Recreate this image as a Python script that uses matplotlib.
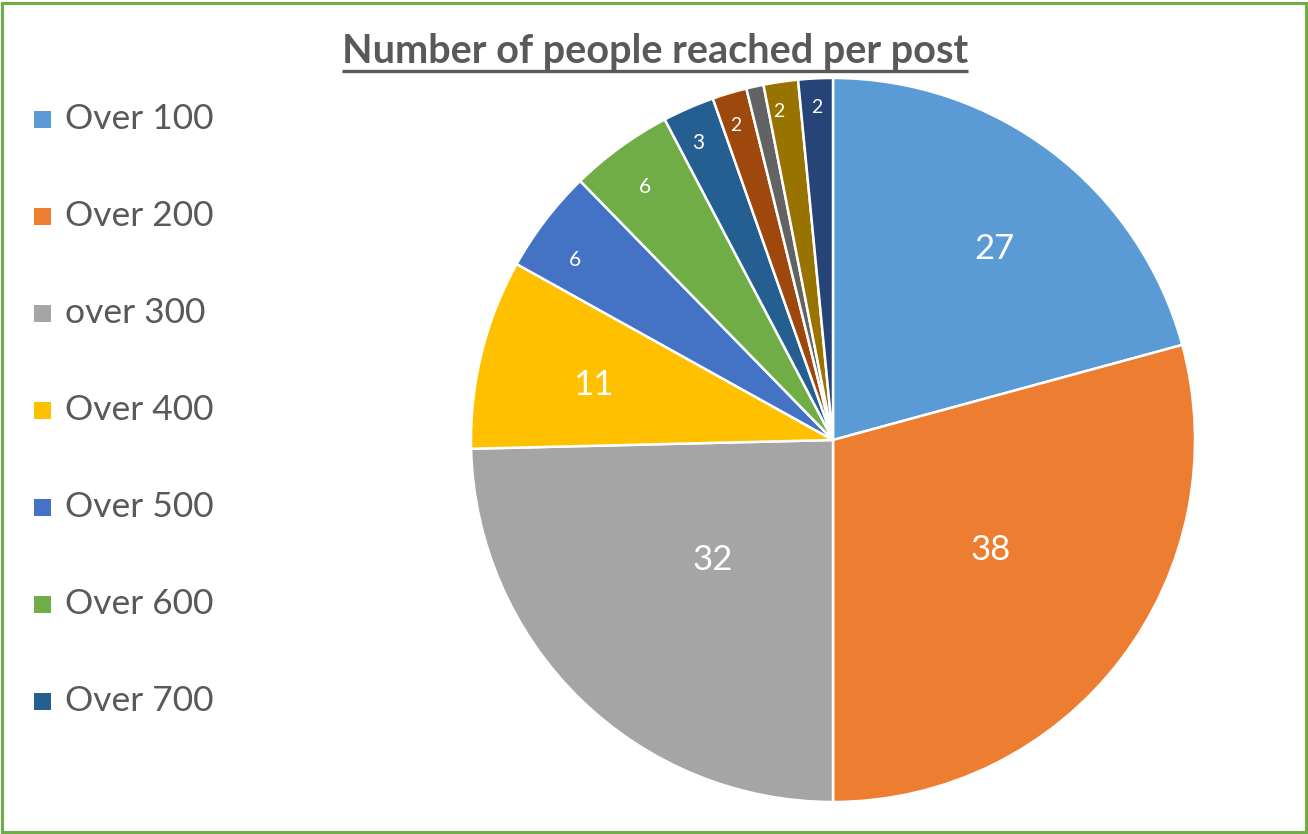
import matplotlib
matplotlib.use("Agg")
import matplotlib.pyplot as plt
from matplotlib.patches import Rectangle
import numpy as np

plt.rcParams['font.family'] = ['Lato', 'DejaVu Sans']

# Data
categories = ["Over 100", "Over 200", "over 300", "Over 400", "Over 500",
              "Over 600", "Over 700", "Over 800", "Over 900", "Over 1000", "Over 1100"]
values = [27, 38, 32, 11, 6, 6, 3, 2, 1, 2, 2]
show_label = [True, True, True, True, True, True, True, True, False, True, True]
legend_count = 7
title = "Number of people reached per post"

colors = ["#5B9BD5", "#ED7D31", "#A5A5A5", "#FFC000", "#4472C4", "#70AD47",
          "#255E91", "#9E480E", "#636363", "#997300", "#264478"]
# label placement: fraction of radius and angular nudge (degrees)
label_radius = [0.69, 0.53, 0.47, 0.68, 0.87, 0.87, 0.90, 0.91, 0.92, 0.92, 0.92]
label_nudge = [-2.8, 2.4, -0.7, 1.0, 2.5, 0.7, 0.9, 0.5, 0.0, 1.0, 0.1]
label_size = [25, 25, 25, 25, 15, 15, 15, 14, 14, 14, 14]

W, H = 1308, 834
fig = plt.figure(figsize=(W / 100, H / 100), dpi=100)
ax = fig.add_axes([0, 0, 1, 1])

cx, cy, r = 833, H - 440, 362
wedges, _ = ax.pie(values, colors=colors, startangle=90, counterclock=False,
                   center=(cx, cy), radius=r,
                   wedgeprops=dict(edgecolor="white", linewidth=1.8),
                   frame=True)
ax.set_xlim(0, W)
ax.set_ylim(0, H)
ax.axis("off")

for w, v, show, rf, dn, fs in zip(wedges, values, show_label, label_radius,
                                  label_nudge, label_size):
    if not show:
        continue
    ang = np.deg2rad((w.theta1 + w.theta2) / 2 + dn)
    ax.text(cx + rf * r * np.cos(ang), cy + rf * r * np.sin(ang), str(v),
            ha="center", va="center", color="white", fontsize=fs)

# Legend (first entries fit in the frame)
legend_top = H - 119
legend_step = 97
for i in range(legend_count):
    y = legend_top - i * legend_step
    ax.add_patch(Rectangle((34, y - 9), 17, 17, facecolor=colors[i], edgecolor="none"))
    ax.text(65, y, categories[i], ha="left", va="center", fontsize=25.5, color="#595959")

# Title with underline
t = ax.text(655, H - 63, title, ha="center", va="baseline", fontsize=28.5,
            fontweight="bold", color="#595959")
fig.canvas.draw()
bb = t.get_window_extent(renderer=fig.canvas.get_renderer())
ax.plot([bb.x0, bb.x1], [H - 71, H - 71], color="#595959", linewidth=2.4,
        solid_capstyle="butt")

# Chart frame
ax.add_patch(Rectangle((2, 2), W - 4, H - 5, facecolor="none",
                       edgecolor="#70AD47", linewidth=2.2))

fig.savefig("out.png", dpi=100)
